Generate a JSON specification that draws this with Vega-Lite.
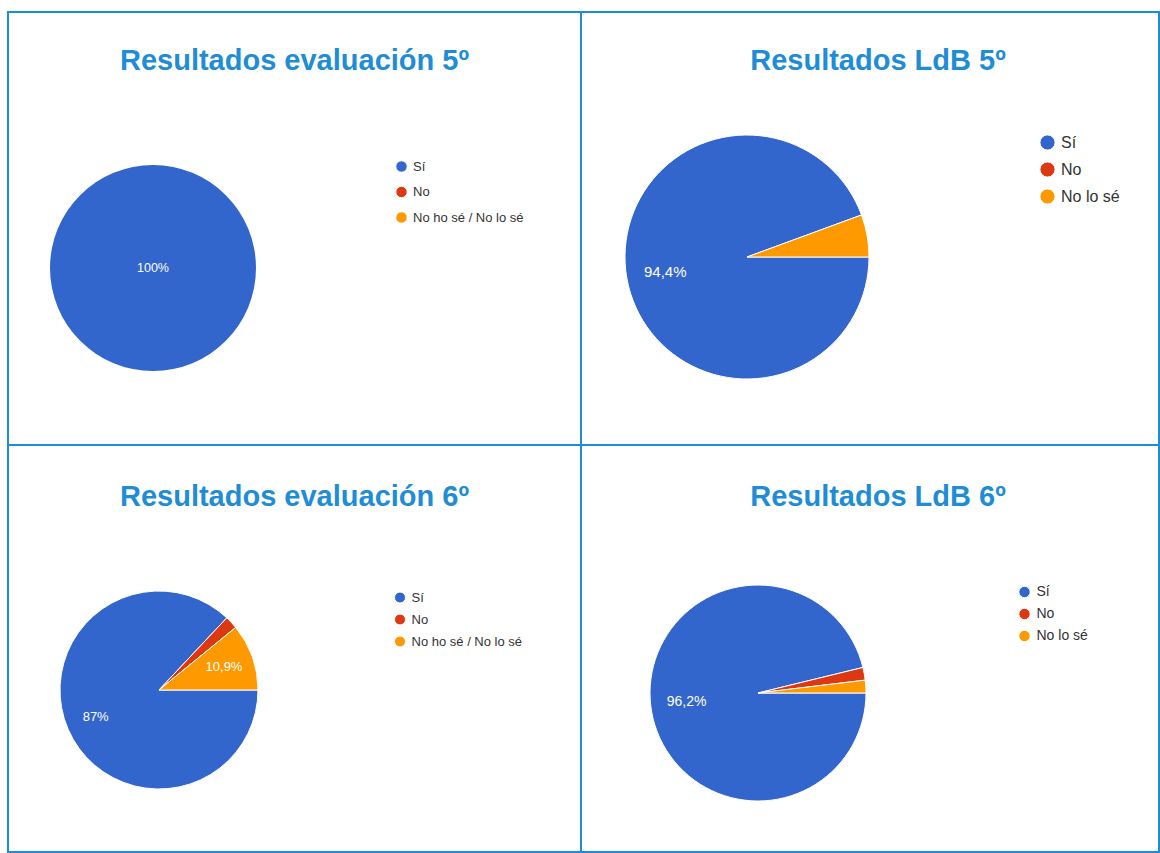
{
  "$schema": "https://vega.github.io/schema/vega-lite/v6.json",
  "padding": {"left": 7, "top": 11, "right": 0, "bottom": 0},
  "autosize": {"type": "pad"},
  "background": "white",
  "columns": 2,
  "spacing": 0,
  "bounds": "flush",
  "resolve": {
    "scale": {"color": "independent", "theta": "independent"},
    "legend": {"color": "independent"}
  },
  "config": {
    "locale": {"number": {"decimal": ",", "thousands": ".", "grouping": [3], "currency": ["", " €"]}},
    "view": {"stroke": "#1F8DD6", "strokeWidth": 2},
    "font": "Liberation Sans",
    "title": {"fontSize": 29, "fontWeight": "bold", "color": "#1F8DD6", "font": "Liberation Sans", "anchor": "middle", "frame": "group", "baseline": "alphabetic", "offset": -64},
    "legend": {"orient": "none", "title": null, "symbolType": "circle", "symbolStrokeWidth": 0, "labelColor": "#333333", "labelFont": "Liberation Sans", "padding": 0},
    "arc": {"stroke": "white", "strokeWidth": 1}
  },
  "concat": [
    {
      "width": 573, "height": 433,
      "title": {"text": "Resultados evaluación 5º"},
      "data": {"values": [
        {"respuesta": "Sí", "orden": 1, "proporcion": 1.0}
      ]},
      "encoding": {
        "theta": {"field": "proporcion", "type": "quantitative", "stack": true, "scale": {"range": [1.5707963, 7.8539816]}},
        "order": {"field": "orden", "type": "quantitative"},
        "x": {"value": 145}, "y": {"value": 256}
      },
      "layer": [
        {"mark": {"type": "arc", "radius": 103, "strokeWidth": 0},
         "encoding": {"color": {"field": "respuesta", "type": "nominal",
           "scale": {"domain": ["Sí", "No", "No ho sé / No lo sé"], "range": ["#3366CC", "#DC3912", "#FF9900"]},
           "legend": {"legendX": 387, "legendY": 148, "symbolSize": 130, "labelFontSize": 13, "rowPadding": 8.5, "labelOffset": 5}}}},
        {"mark": {"type": "text", "radius": 0, "fontSize": 12.5, "font": "Liberation Sans"},
         "encoding": {"detail": {"field": "respuesta"}, "color": {"value": "white"},
           "text": {"condition": {"test": "datum.proporcion < 0.1", "value": ""}, "field": "proporcion", "type": "quantitative", "format": ".1~%"}}}
      ]
    },
    {
      "width": 578, "height": 433,
      "title": {"text": "Resultados LdB 5º", "dx": 8},
      "data": {"values": [
        {"respuesta": "Sí", "orden": 1, "proporcion": 0.944},
        {"respuesta": "No lo sé", "orden": 3, "proporcion": 0.056}
      ]},
      "encoding": {
        "theta": {"field": "proporcion", "type": "quantitative", "stack": true, "scale": {"range": [1.5707963, 7.8539816]}},
        "order": {"field": "orden", "type": "quantitative"},
        "x": {"value": 166}, "y": {"value": 245}
      },
      "layer": [
        {"mark": {"type": "arc", "radius": 122},
         "encoding": {"color": {"field": "respuesta", "type": "nominal",
           "scale": {"domain": ["Sí", "No", "No lo sé"], "range": ["#3366CC", "#DC3912", "#FF9900"]},
           "legend": {"legendX": 458, "legendY": 122, "symbolSize": 230, "labelFontSize": 16, "rowPadding": 6, "labelOffset": 5}}}},
        {"mark": {"type": "text", "radius": 83, "fontSize": 15, "font": "Liberation Sans"},
         "encoding": {"detail": {"field": "respuesta"}, "color": {"value": "white"},
           "text": {"condition": {"test": "datum.proporcion < 0.1", "value": ""}, "field": "proporcion", "type": "quantitative", "format": ".1~%"}}}
      ]
    },
    {
      "width": 573, "height": 407,
      "title": {"text": "Resultados evaluación 6º", "offset": -67},
      "data": {"values": [
        {"respuesta": "Sí", "orden": 1, "proporcion": 0.87},
        {"respuesta": "No", "orden": 2, "proporcion": 0.021},
        {"respuesta": "No ho sé / No lo sé", "orden": 3, "proporcion": 0.109}
      ]},
      "encoding": {
        "theta": {"field": "proporcion", "type": "quantitative", "stack": true, "scale": {"range": [1.5707963, 7.8539816]}},
        "order": {"field": "orden", "type": "quantitative"},
        "x": {"value": 151}, "y": {"value": 245}
      },
      "layer": [
        {"mark": {"type": "arc", "radius": 99},
         "encoding": {"color": {"field": "respuesta", "type": "nominal",
           "scale": {"domain": ["Sí", "No", "No ho sé / No lo sé"], "range": ["#3366CC", "#DC3912", "#FF9900"]},
           "legend": {"legendX": 385.5, "legendY": 146, "symbolSize": 120, "labelFontSize": 13, "rowPadding": 7, "labelOffset": 5}}}},
        {"mark": {"type": "text", "radius": 69, "fontSize": 13, "font": "Liberation Sans"},
         "encoding": {"detail": {"field": "respuesta"}, "color": {"value": "white"},
           "text": {"condition": {"test": "datum.proporcion < 0.1", "value": ""}, "field": "proporcion", "type": "quantitative", "format": ".1~%"}}}
      ]
    },
    {
      "width": 578, "height": 407,
      "title": {"text": "Resultados LdB 6º", "dx": 8, "offset": -67},
      "data": {"values": [
        {"respuesta": "Sí", "orden": 1, "proporcion": 0.962},
        {"respuesta": "No", "orden": 2, "proporcion": 0.019},
        {"respuesta": "No lo sé", "orden": 3, "proporcion": 0.019}
      ]},
      "encoding": {
        "theta": {"field": "proporcion", "type": "quantitative", "stack": true, "scale": {"range": [1.5707963, 7.8539816]}},
        "order": {"field": "orden", "type": "quantitative"},
        "x": {"value": 177}, "y": {"value": 248}
      },
      "layer": [
        {"mark": {"type": "arc", "radius": 108},
         "encoding": {"color": {"field": "respuesta", "type": "nominal",
           "scale": {"domain": ["Sí", "No", "No lo sé"], "range": ["#3366CC", "#DC3912", "#FF9900"]},
           "legend": {"legendX": 436.5, "legendY": 140, "symbolSize": 130, "labelFontSize": 14, "rowPadding": 6, "labelOffset": 5}}}},
        {"mark": {"type": "text", "radius": 72, "fontSize": 14, "font": "Liberation Sans"},
         "encoding": {"detail": {"field": "respuesta"}, "color": {"value": "white"},
           "text": {"condition": {"test": "datum.proporcion < 0.1", "value": ""}, "field": "proporcion", "type": "quantitative", "format": ".1~%"}}}
      ]
    }
  ]
}
